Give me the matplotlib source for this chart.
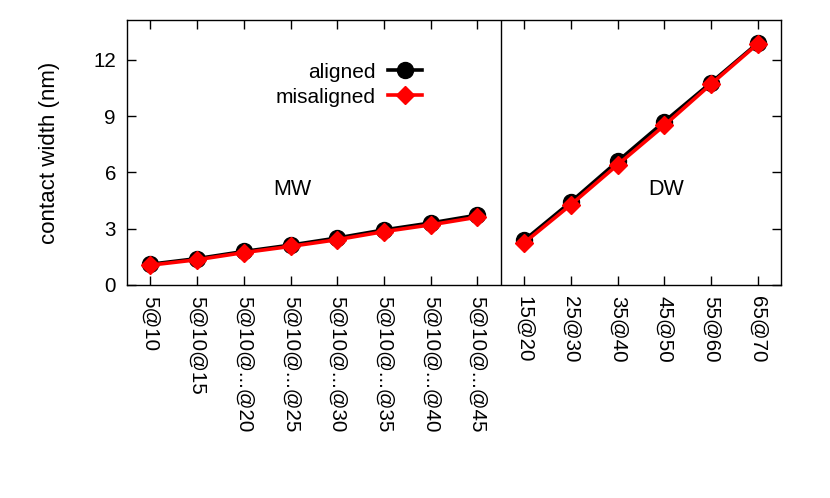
import matplotlib
matplotlib.use("Agg")
import matplotlib.pyplot as plt
import numpy as np

plt.rcParams['font.family'] = ['Liberation Sans', 'DejaVu Sans']

mw_labels = ["5@10", "5@10@15", "5@10@...@20", "5@10@...@25",
             "5@10@...@30", "5@10@...@35", "5@10@...@40", "5@10@...@45"]
dw_labels = ["15@20", "25@30", "35@40", "45@50", "55@60", "65@70"]

mw_aligned = [1.1, 1.4, 1.78, 2.12, 2.5, 2.93, 3.3, 3.72]
mw_misaligned = [1.05, 1.34, 1.72, 2.05, 2.41, 2.84, 3.2, 3.61]
dw_aligned = [2.37, 4.42, 6.58, 8.7, 10.78, 12.89]
dw_misaligned = [2.24, 4.27, 6.4, 8.5, 10.7, 12.85]

x_mw = np.arange(len(mw_labels))
x_dw = np.arange(len(dw_labels)) + len(mw_labels)

fig = plt.figure(figsize=(8.3, 4.98), dpi=100)
ax = fig.add_axes([0.153, 0.428, 0.788, 0.532])

lw = 2.6
ax.plot(x_mw, mw_aligned, color='black', lw=lw, marker='o', ms=11.5, label='aligned', zorder=3)
ax.plot(x_dw, dw_aligned, color='black', lw=lw, marker='o', ms=11.5, zorder=3)
ax.plot(x_mw, mw_misaligned, color='red', lw=lw, marker='D', ms=9, label='misaligned', zorder=4)
ax.plot(x_dw, dw_misaligned, color='red', lw=lw, marker='D', ms=9, zorder=4)

# separator between the two groups
ax.axvline(len(mw_labels) - 0.5, color='black', lw=1)

ax.set_xlim(-0.5, len(mw_labels) + len(dw_labels) - 0.5)
ax.set_ylim(0, 14.13)
ax.set_yticks([0, 3, 6, 9, 12])
ax.set_xticks(np.concatenate([x_mw, x_dw]))
ax.set_xticklabels(mw_labels + dw_labels, rotation=270, va='top', ha='center')
ax.tick_params(direction='in', top=True, right=True, length=6.5, width=1, labelsize=14.8)
ax.tick_params(axis='x', pad=8)
ax.tick_params(axis='y', pad=8)
for s in ax.spines.values():
    s.set_linewidth(1)

ax.set_ylabel('contact width (nm)', fontsize=16, labelpad=24)

ax.text(3.03, 5.1, 'MW', fontsize=15.5, ha='center', va='center')
ax.text(11.03, 5.1, 'DW', fontsize=15.5, ha='center', va='center')

ax.legend(loc='upper left', bbox_to_anchor=(0.215, 0.87), frameon=False,
          markerfirst=False, fontsize=15, handlelength=1.6, labelspacing=0.28,
          handletextpad=0.6, borderaxespad=0)

fig.savefig('out.png', dpi=100)
